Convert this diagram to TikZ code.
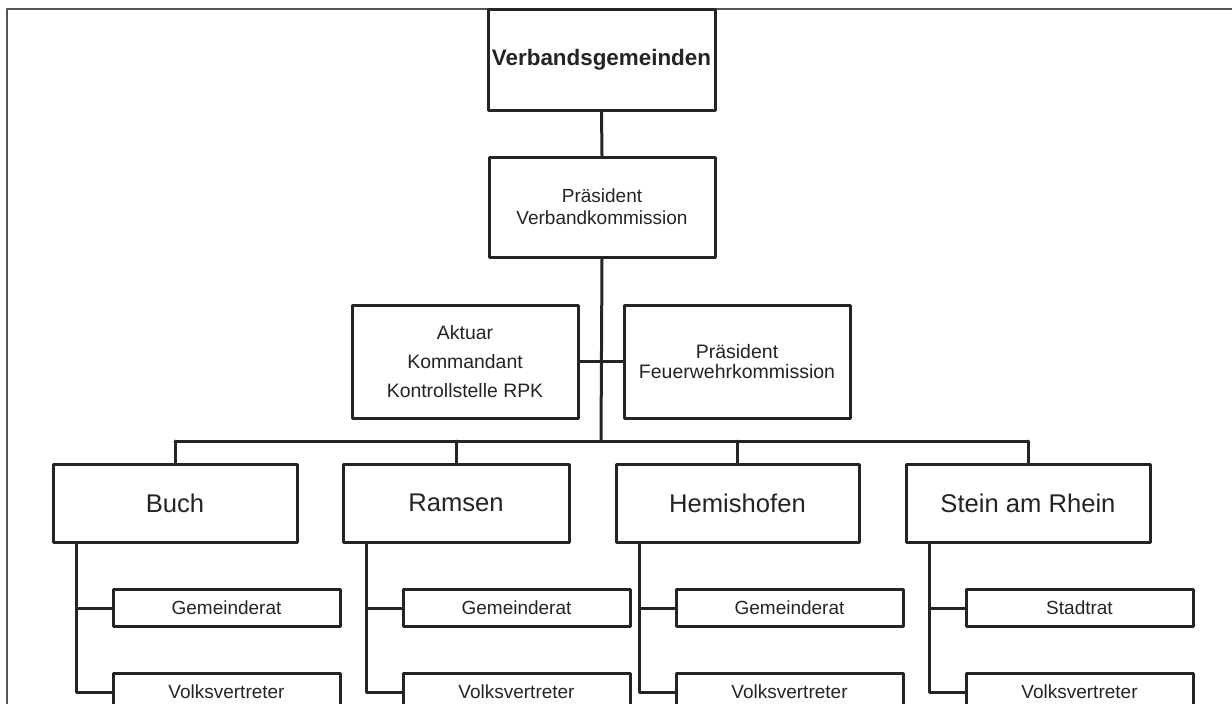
\documentclass[tikz,border=0pt]{standalone}
\usepackage{fontspec}
\setmainfont{Liberation Sans}
\usepackage{pgf,tikz}
\definecolor{ttttzz}{rgb}{0.14,0.14,0.14}
\definecolor{sqsqsq}{rgb}{0.33,0.33,0.33}

\begin{document}
\begin{tikzpicture}[line cap=round,line join=round,x=1pt,y=-1pt,
	box/.style={draw=ttttzz,line width=3pt,text=ttttzz,fill=white,inner sep=0pt,align=center},
	ort/.style={box,minimum height=78pt,font=\fontsize{25.6}{30}\selectfont},
	rat/.style={box,minimum width=227pt,minimum height=37pt,font=\fontsize{19}{22}\selectfont},
	link/.style={draw=ttttzz,line width=3pt}]
	\clip (0,0) rectangle (1232,704);
	\draw [sqsqsq,line width=2pt] (7,720) -- (7,9) -- (1250,9);
	\node [box,minimum width=227pt,minimum height=101pt,font=\fontsize{22.4}{26}\selectfont\bfseries] (verband) at (601.5,59.5) {Verbandsgemeinden};
	\node [box,minimum width=226pt,minimum height=100pt,font=\fontsize{19}{22}\selectfont] (praes) at (602,207) {Präsident\\Verbandkommission};
	\node [box,minimum width=226pt,minimum height=113pt,font=\fontsize{19.4}{29}\selectfont] (aktuar) at (465,361.5) {Aktuar\\Kommandant\\Kontrollstelle RPK};
	\node [box,minimum width=226pt,minimum height=113pt,font=\fontsize{19.5}{20}\selectfont] (feuer) at (737,361.5) {Präsident\\Feuerwehrkommission};
	\coordinate (bus) at (601,441);
	\node [ort,minimum width=244pt] (buch) at (175,503) {Buch};
	\node [ort,minimum width=226pt] (ramsen) at (456,503) {Ramsen};
	\node [ort,minimum width=243pt] (hemi) at (737.5,503) {Hemishofen};
	\node [ort,minimum width=244pt] (stein) at (1028,503) {Stein am Rhein};
	\draw [link] (verband.south) -- (praes.north);
	\draw [link] (praes.south) -- (bus);
	\draw [link] (aktuar.east) -- (feuer.west);
	\draw [link] (buch.north |- bus) -- (stein.north |- bus);
	\foreach \n/\m in {buch/Gemeinderat,ramsen/Gemeinderat,hemi/Gemeinderat,stein/Stadtrat}{
		\node [rat,anchor=west] (\n-g) at ([shift={(60,64.5)}]\n.south west) {\m};
		\node [rat,anchor=west] (\n-v) at ([shift={(60,148.5)}]\n.south west) {Volksvertreter};
		\coordinate (\n-b) at ([xshift=25pt]\n.south west);
		\draw [link] (\n.north) -- (\n.north |- bus);
		\draw [link] (\n-b) |- (\n-v.west);
		\draw [link] (\n-g.west) -- (\n-g.west -| \n-b);
	}
\end{tikzpicture}
\end{document}
